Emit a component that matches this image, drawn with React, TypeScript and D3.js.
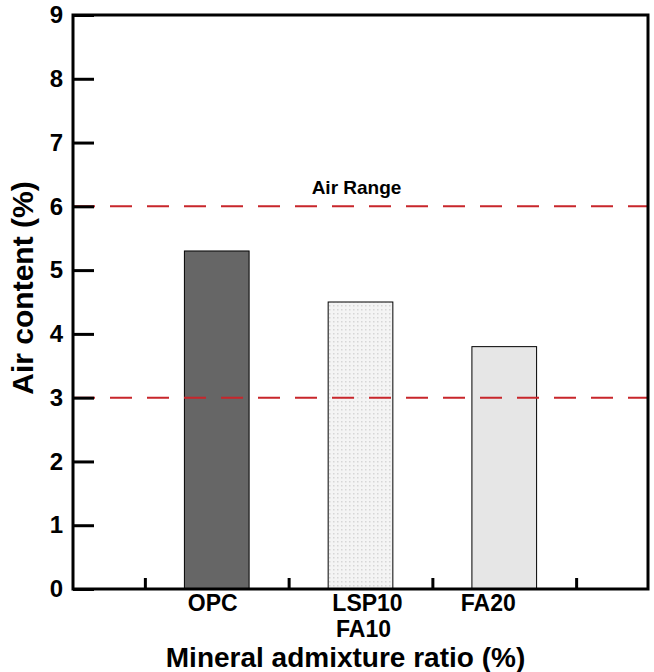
import React, { useEffect, useRef } from "react";
import * as d3 from "d3";

// values
const categories = [["OPC"], ["LSP10", "FA10"], ["FA20"]];
const airContent = [5.3, 4.5, 3.8];
const barFills = ["#666666", "url(#dots)", "#e6e6e6"];
const yTicks = [0, 1, 2, 3, 4, 5, 6, 7, 8, 9];
const xTicks = [0.5, 1.5, 2.5, 3.5];
const airRange = [3, 6];
// small nudges of the category labels, as in the original
const labelDx = [-4, 7, -16];

const width = 654, height = 672;
const left = 73, right = 648, top = 15, bottom = 589;
const font = "Arial, 'Liberation Sans', sans-serif";

const App = () => {
    const ref = useRef<SVGSVGElement>(null);

    useEffect(() => {
        const svg = d3.select(ref.current);
        svg.selectAll("*").remove();

        const x = d3.scaleLinear().domain([0, 4]).range([left, right]);
        const y = d3.scaleLinear().domain([0, 9]).range([bottom, top]);
        const barW = 0.45;

        const defs = svg.append("defs");
        const pat = defs.append("pattern")
            .attr("id", "dots")
            .attr("patternUnits", "userSpaceOnUse")
            .attr("width", 4)
            .attr("height", 4);
        pat.append("rect").attr("width", 4).attr("height", 4).attr("fill", "#f4f4f4");
        pat.append("rect").attr("x", 1).attr("y", 1).attr("width", 1.5).attr("height", 1.5).attr("fill", "#d6d6d6");

        // bars
        svg.selectAll("rect.bar")
            .data(airContent)
            .enter()
            .append("rect")
            .attr("class", "bar")
            .attr("x", (d, i) => x(i + 1 - barW / 2))
            .attr("y", (d) => y(d))
            .attr("width", x(barW) - x(0))
            .attr("height", (d) => y(0) - y(d))
            .attr("fill", (d, i) => barFills[i])
            .attr("stroke", "#000")
            .attr("stroke-width", 1);

        // air range lines
        svg.selectAll("line.range")
            .data(airRange)
            .enter()
            .append("line")
            .attr("x1", left)
            .attr("x2", right)
            .attr("y1", (d) => y(d))
            .attr("y2", (d) => y(d))
            .attr("stroke", "#c8262b")
            .attr("stroke-width", 2)
            .attr("stroke-dasharray", "22,15");

        svg.append("text")
            .attr("x", x(2) - 4)
            .attr("y", y(6) - 12)
            .attr("text-anchor", "middle")
            .attr("font-family", font)
            .attr("font-weight", "bold")
            .attr("font-size", 19)
            .text("Air Range");

        // axes
        const yAxis = d3.axisLeft(y).tickValues(yTicks).tickSize(-21).tickPadding(10).tickFormat(d3.format("d"));
        const gy = svg.append("g").attr("transform", "translate(" + left + ",0)").call(yAxis);
        gy.select(".domain").remove();
        gy.selectAll("line").attr("stroke-width", 3);
        gy.selectAll("text")
            .attr("font-family", font)
            .attr("font-weight", "bold")
            .attr("font-size", 24)
            .attr("fill", "#000");

        const xAxis = d3.axisBottom(x).tickValues(xTicks).tickSize(-11).tickFormat(() => "");
        const gx = svg.append("g").attr("transform", "translate(0," + bottom + ")").call(xAxis);
        gx.select(".domain").remove();
        gx.selectAll("line").attr("stroke-width", 3);

        // frame
        svg.append("rect")
            .attr("x", left)
            .attr("y", top)
            .attr("width", right - left)
            .attr("height", bottom - top)
            .attr("fill", "none")
            .attr("stroke", "#000")
            .attr("stroke-width", 3);

        // category labels, one text per line
        categories.forEach((lines, i) => {
            lines.forEach((s, j) => {
                svg.append("text")
                    .attr("x", x(i + 1) + labelDx[i] - j * 4)
                    .attr("y", 611 + j * 26)
                    .attr("text-anchor", "middle")
                    .attr("font-family", font)
                    .attr("font-weight", "bold")
                    .attr("font-size", 23)
                    .text(s);
            });
        });

        // axis titles
        svg.append("text")
            .attr("x", (left + right) / 2 - 15)
            .attr("y", 667)
            .attr("text-anchor", "middle")
            .attr("font-family", font)
            .attr("font-weight", "bold")
            .attr("font-size", 28)
            .text("Mineral admixture ratio (%)");

        svg.append("text")
            .attr("transform", "translate(33," + 288 + ") rotate(-90)")
            .attr("text-anchor", "middle")
            .attr("font-family", font)
            .attr("font-weight", "bold")
            .attr("font-size", 30)
            .text("Air content (%)");
    }, []);

    return (
        <svg ref={ref} width={width} height={height}
             style={{ position: "absolute", left: 0, top: 0, background: "#fff" }} />
    );
};

export default App;
